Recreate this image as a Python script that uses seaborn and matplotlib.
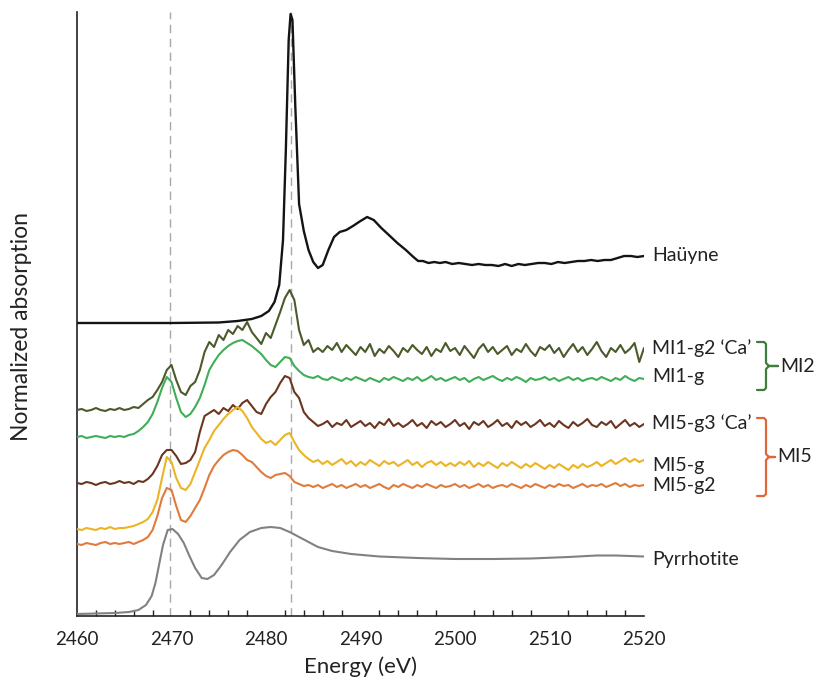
import numpy as np
import pandas as pd
import matplotlib
matplotlib.use("Agg")
import matplotlib.pyplot as plt
from matplotlib.ticker import MultipleLocator
import seaborn as sns

# ---------------- data ----------------
# y-values are in the chart's own arbitrary "normalized absorption" units,
# stacked with offsets as in the reference.
energy_grid = [
    2460.0, 2460.5, 2461.0, 2461.5, 2462.0, 2462.5, 2463.0, 2463.5, 2464.0, 2464.5,
    2465.0, 2465.5, 2466.0, 2466.5, 2467.0, 2467.5, 2468.0, 2468.5, 2469.0, 2469.5,
    2470.0, 2470.5, 2471.0, 2471.5, 2472.0, 2472.5, 2473.0, 2473.5, 2474.0, 2474.5,
    2475.0, 2475.5, 2476.0, 2476.5, 2477.0, 2477.5, 2478.0, 2478.5, 2479.0, 2479.5,
    2480.0, 2480.5, 2481.0, 2481.5, 2482.0, 2482.5, 2483.0, 2483.5, 2484.0, 2484.5,
    2485.0, 2485.5, 2486.0, 2486.5, 2487.0, 2487.5, 2488.0, 2488.5, 2489.0, 2489.5,
    2490.0, 2490.5, 2491.0, 2491.5, 2492.0, 2492.5, 2493.0, 2493.5, 2494.0, 2494.5,
    2495.0, 2495.5, 2496.0, 2496.5, 2497.0, 2497.5, 2498.0, 2498.5, 2499.0, 2499.5,
    2500.0, 2500.5, 2501.0, 2501.5, 2502.0, 2502.5, 2503.0, 2503.5, 2504.0, 2504.5,
    2505.0, 2505.5, 2506.0, 2506.5, 2507.0, 2507.5, 2508.0, 2508.5, 2509.0, 2509.5,
    2510.0, 2510.5, 2511.0, 2511.5, 2512.0, 2512.5, 2513.0, 2513.5, 2514.0, 2514.5,
    2515.0, 2515.5, 2516.0, 2516.5, 2517.0, 2517.5, 2518.0, 2518.5, 2519.0, 2519.5,
    2520.0]

mi1_g2_ca = [
    2.06, 2.07, 2.05, 2.06, 2.08, 2.06, 2.05, 2.07, 2.06, 2.08,
    2.06, 2.07, 2.09, 2.08, 2.12, 2.16, 2.19, 2.26, 2.34, 2.46,
    2.51, 2.36, 2.24, 2.21, 2.30, 2.34, 2.46, 2.64, 2.74, 2.69,
    2.81, 2.76, 2.86, 2.82, 2.90, 2.86, 2.94, 2.84, 2.78, 2.72,
    2.83, 2.78, 2.91, 3.04, 3.18, 3.26, 3.16, 2.86, 2.71, 2.76,
    2.64, 2.68, 2.64, 2.70, 2.66, 2.73, 2.64, 2.71, 2.66, 2.61,
    2.69, 2.64, 2.72, 2.60, 2.67, 2.63, 2.70, 2.65, 2.59, 2.68,
    2.64, 2.71, 2.66, 2.62, 2.69, 2.60, 2.67, 2.64, 2.73, 2.65,
    2.68, 2.61, 2.70, 2.64, 2.58, 2.67, 2.72, 2.64, 2.69, 2.62,
    2.66, 2.70, 2.61, 2.67, 2.64, 2.72, 2.65, 2.60, 2.69, 2.66,
    2.71, 2.63, 2.68, 2.59, 2.66, 2.72, 2.64, 2.69, 2.61, 2.67,
    2.74, 2.65, 2.59, 2.68, 2.64, 2.71, 2.63, 2.67, 2.73, 2.54,
    2.68]

mi1_g = [
    1.79, 1.80, 1.78, 1.79, 1.80, 1.79, 1.78, 1.80, 1.79, 1.80,
    1.79, 1.81, 1.82, 1.85, 1.89, 1.94, 2.02, 2.14, 2.28, 2.39,
    2.34, 2.18, 2.04, 1.99, 2.02, 2.09, 2.18, 2.31, 2.46, 2.54,
    2.61, 2.66, 2.70, 2.73, 2.75, 2.76, 2.73, 2.70, 2.66, 2.62,
    2.56, 2.51, 2.49, 2.54, 2.59, 2.58, 2.50, 2.45, 2.41, 2.39,
    2.38, 2.40, 2.37, 2.36, 2.39, 2.37, 2.35, 2.38, 2.36, 2.39,
    2.37, 2.35, 2.38, 2.36, 2.34, 2.38, 2.36, 2.39, 2.37, 2.35,
    2.38, 2.36, 2.39, 2.35, 2.37, 2.40, 2.36, 2.38, 2.35, 2.37,
    2.39, 2.36, 2.38, 2.34, 2.37, 2.39, 2.36, 2.38, 2.40, 2.37,
    2.35, 2.38, 2.36, 2.39, 2.37, 2.34, 2.38, 2.36, 2.37, 2.39,
    2.36, 2.38, 2.35, 2.37, 2.39, 2.36, 2.38, 2.35, 2.37, 2.38,
    2.36, 2.39, 2.37, 2.35, 2.38, 2.36, 2.40, 2.37, 2.35, 2.38,
    2.37]

mi5_g3_ca = [
    1.33, 1.32, 1.34, 1.33, 1.31, 1.33, 1.34, 1.32, 1.33, 1.35,
    1.33, 1.34, 1.32, 1.35, 1.34, 1.37, 1.42, 1.50, 1.61, 1.66,
    1.66, 1.60, 1.52, 1.53, 1.56, 1.64, 1.84, 2.00, 2.03, 2.06,
    2.02, 2.08, 2.05, 2.11, 2.07, 2.13, 2.16, 2.10, 2.04, 2.02,
    2.12, 2.19, 2.24, 2.33, 2.40, 2.38, 2.24, 2.18, 2.04, 1.98,
    1.94, 1.90, 1.92, 1.95, 1.89, 1.93, 1.91, 1.96, 1.89, 1.92,
    1.95, 1.90, 1.93, 1.88, 1.94, 1.91, 1.97, 1.90, 1.93, 1.89,
    1.92, 1.96, 1.90, 1.93, 1.88, 1.95, 1.91, 1.94, 1.89, 1.92,
    1.96, 1.90, 1.93, 1.87, 1.94, 1.91, 1.95, 1.89, 1.92, 1.96,
    1.90, 1.93, 1.88, 1.95, 1.91, 1.94, 1.89, 1.92, 1.96, 1.90,
    1.93, 1.89, 1.95, 1.91, 1.88, 1.94, 1.90, 1.93, 1.97, 1.91,
    1.89, 1.94, 1.91, 1.95, 1.88, 1.92, 1.96, 1.90, 1.93, 1.89,
    1.92]

mi5_g = [
    0.87, 0.86, 0.88, 0.87, 0.86, 0.88, 0.87, 0.89, 0.87, 0.88,
    0.88, 0.89, 0.90, 0.92, 0.94, 0.97, 1.04, 1.16, 1.38, 1.59,
    1.54, 1.38, 1.28, 1.26, 1.32, 1.44, 1.56, 1.68, 1.76, 1.85,
    1.91, 1.97, 2.02, 2.06, 2.09, 2.05, 1.98, 1.89, 1.83, 1.77,
    1.73, 1.75, 1.71, 1.76, 1.81, 1.83, 1.74, 1.66, 1.61, 1.57,
    1.54, 1.56, 1.52, 1.55, 1.51, 1.54, 1.57, 1.52, 1.55, 1.50,
    1.54, 1.51, 1.56, 1.53, 1.50, 1.55, 1.52, 1.54, 1.50, 1.53,
    1.56, 1.51, 1.54, 1.49, 1.53, 1.55, 1.51, 1.54, 1.50, 1.53,
    1.50, 1.54, 1.51, 1.55, 1.49, 1.53, 1.50, 1.54, 1.51, 1.48,
    1.53, 1.50, 1.54, 1.51, 1.48, 1.52, 1.49, 1.53, 1.50, 1.47,
    1.51, 1.48, 1.52, 1.49, 1.46, 1.51, 1.48, 1.52, 1.49, 1.51,
    1.54, 1.50, 1.53, 1.56, 1.52, 1.55, 1.58, 1.54, 1.57, 1.54,
    1.56]

mi5_g2 = [
    0.72, 0.71, 0.73, 0.72, 0.71, 0.73, 0.74, 0.72, 0.73, 0.72,
    0.73, 0.74, 0.72, 0.74, 0.76, 0.79, 0.86, 1.00, 1.18, 1.28,
    1.26, 1.10, 0.96, 0.94, 1.00, 1.08, 1.16, 1.28, 1.41, 1.50,
    1.56, 1.61, 1.64, 1.66, 1.65, 1.61, 1.56, 1.54, 1.49, 1.44,
    1.40, 1.38, 1.41, 1.42, 1.43, 1.40, 1.34, 1.32, 1.30, 1.31,
    1.29, 1.31, 1.28, 1.30, 1.32, 1.29, 1.31, 1.28, 1.30, 1.32,
    1.29, 1.31, 1.28, 1.30, 1.32, 1.29, 1.27, 1.31, 1.29, 1.32,
    1.30, 1.28, 1.31, 1.29, 1.32, 1.30, 1.28, 1.31, 1.29, 1.30,
    1.32, 1.29, 1.31, 1.28, 1.30, 1.32, 1.29, 1.31, 1.28, 1.30,
    1.31, 1.29, 1.32, 1.30, 1.28, 1.31, 1.29, 1.32, 1.30, 1.28,
    1.31, 1.29, 1.32, 1.30, 1.31, 1.28, 1.30, 1.32, 1.29, 1.31,
    1.30, 1.32, 1.29, 1.31, 1.33, 1.30, 1.32, 1.29, 1.31, 1.30,
    1.31]

hauyne_energy = [
    2460.0, 2470.0, 2475.0, 2477.0, 2478.5, 2479.5, 2480.3, 2480.9, 2481.4, 2481.8,
    2482.1, 2482.4, 2482.6, 2482.8, 2483.1, 2483.5, 2484.0, 2484.5, 2485.0, 2485.5,
    2486.0, 2486.6, 2487.2, 2487.8, 2488.5, 2489.2, 2490.0, 2490.7, 2491.4, 2492.2,
    2493.0, 2493.9, 2494.8, 2495.6, 2496.1, 2496.6, 2497.2, 2497.8, 2498.4, 2499.0,
    2499.7, 2500.4, 2501.1, 2501.8, 2502.5, 2503.2, 2503.9, 2504.6, 2505.3, 2506.0,
    2506.7, 2507.4, 2508.1, 2508.8, 2509.5, 2510.2, 2510.9, 2511.6, 2512.3, 2513.0,
    2513.7, 2514.4, 2515.1, 2515.8, 2516.5, 2517.2, 2517.9, 2518.6, 2519.3, 2520.0]
hauyne = [
    2.93, 2.93, 2.935, 2.95, 2.97, 3.00, 3.05, 3.14, 3.31, 3.76,
    4.66, 5.76, 6.02, 5.96, 5.10, 4.12, 3.85, 3.66, 3.54, 3.48,
    3.51, 3.66, 3.79, 3.84, 3.86, 3.90, 3.95, 3.99, 3.96, 3.88,
    3.81, 3.73, 3.66, 3.59, 3.55, 3.55, 3.53, 3.54, 3.53, 3.54,
    3.52, 3.53, 3.52, 3.51, 3.52, 3.51, 3.51, 3.50, 3.52, 3.50,
    3.52, 3.51, 3.52, 3.53, 3.53, 3.52, 3.54, 3.53, 3.54, 3.55,
    3.55, 3.56, 3.55, 3.56, 3.56, 3.58, 3.60, 3.60, 3.59, 3.60]

pyrrhotite_energy = [
    2460.0, 2462.0, 2464.0, 2465.5, 2466.5, 2467.3, 2467.9, 2468.3, 2468.7, 2469.1,
    2469.6, 2470.1, 2470.7, 2471.3, 2471.9, 2472.5, 2473.2, 2473.8, 2474.5, 2475.3,
    2476.2, 2477.2, 2478.3, 2479.5, 2480.5, 2481.5, 2482.5, 2483.5, 2484.5, 2485.5,
    2487.0, 2489.0, 2492.0, 2496.0, 2500.0, 2504.0, 2508.0, 2512.0, 2515.0, 2517.0,
    2520.0]
pyrrhotite = [
    0.02, 0.025, 0.03, 0.04, 0.06, 0.11, 0.20, 0.33, 0.52, 0.71,
    0.86, 0.87, 0.82, 0.73, 0.60, 0.48, 0.38, 0.37, 0.41, 0.51,
    0.64, 0.76, 0.84, 0.88, 0.89, 0.88, 0.84, 0.79, 0.74, 0.69,
    0.65, 0.62, 0.595, 0.58, 0.57, 0.57, 0.575, 0.59, 0.605, 0.605,
    0.595]

series_names = ["Haüyne", "MI1-g2 \u2018Ca\u2019", "MI1-g", "MI5-g3 \u2018Ca\u2019",
                "MI5-g", "MI5-g2", "Pyrrhotite"]
series_colors = ["#141414", "#4b5a2a", "#3fae58", "#6b3620", "#ecb424", "#e07b3c", "#858080"]
label_y = [3.60, 2.68, 2.39, 1.93, 1.50, 1.30, 0.57]

group_names = ["MI2", "MI5"]
group_colors = ["#3f7d3c", "#e0673a"]

vlines_energy = [2469.8, 2482.6]

# ---------------- build long-form data ----------------
frames = []
for name, e, a in [
    (series_names[0], hauyne_energy, hauyne),
    (series_names[1], energy_grid, mi1_g2_ca),
    (series_names[2], energy_grid, mi1_g),
    (series_names[3], energy_grid, mi5_g3_ca),
    (series_names[4], energy_grid, mi5_g),
    (series_names[5], energy_grid, mi5_g2),
    (series_names[6], pyrrhotite_energy, pyrrhotite),
]:
    frames.append(pd.DataFrame({"Energy": e, "Absorption": a, "Sample": name}))
df = pd.concat(frames, ignore_index=True)

# ---------------- plot ----------------
sns.set_style("white")
plt.rcParams["font.family"] = ["Lato", "DejaVu Sans"]

W, H = 816, 686
fig = plt.figure(figsize=(W / 100, H / 100), dpi=100)
ax = fig.add_axes([77 / W, 1 - 616 / H, (644 - 77) / W, (616 - 12) / H])

for xv in vlines_energy:
    ax.axvline(xv, color="#a8a8a8", lw=1.0, ls=(0, (6, 4)), zorder=1)

palette = dict(zip(series_names, series_colors))
for name in series_names:
    sub = df[df["Sample"] == name]
    sns.lineplot(data=sub, x="Energy", y="Absorption", color=palette[name],
                 lw=1.7 if name == "Haüyne" else 1.5, sort=False, estimator=None,
                 ax=ax, legend=False, zorder=3)

ax.set_xlim(2460, 2520)
ax.set_ylim(0, 6.04)
ax.xaxis.set_major_locator(MultipleLocator(10))
ax.xaxis.set_minor_locator(MultipleLocator(2))
ax.tick_params(axis="x", which="major", direction="in", length=5, width=1.1,
               labelsize=13.5, pad=11, colors="#222222")
ax.tick_params(axis="x", which="minor", direction="in", length=4, width=1.0,
               colors="#222222", bottom=True)
ax.tick_params(axis="y", left=False, labelleft=False)
ax.set_yticks([])
for s in ["top", "right"]:
    ax.spines[s].set_visible(False)
for s in ["left", "bottom"]:
    ax.spines[s].set_color("#222222")
    ax.spines[s].set_linewidth(1.2)

ax.set_xlabel("Energy (eV)", fontsize=16, color="#222222", labelpad=6)
ax.set_ylabel("Normalized absorption", fontsize=16.5, color="#222222")
ax.yaxis.set_label_coords(-0.079, 0.48)

# series labels (right of the plot)
for name, yv in zip(series_names, label_y):
    ax.text(1.014, yv, name, transform=ax.get_yaxis_transform(), fontsize=14,
            va="center", ha="left", color="#222222", clip_on=False)

# group braces in figure pixel coordinates
def brace(top, bottom, stub_end, text_x, color, label):
    mid = (top + bottom) / 2
    xs = [757, 764, 766, 766, 769, stub_end, 769, 766, 766, 764, 757]
    ys = [top, top, top + 2, mid - 3, mid, mid, mid, mid + 3, bottom - 2, bottom, bottom]
    fig.add_artist(plt.Line2D([x / W for x in xs], [1 - y / H for y in ys],
                              color=color, lw=1.6, transform=fig.transFigure))
    fig.text(text_x / W, 1 - mid / H, label, fontsize=14, va="center", ha="left",
             color="#222222")

brace(342, 390, 778, 780, group_colors[0], group_names[0])
brace(418, 496, 775, 777, group_colors[1], group_names[1])

fig.savefig("out.png", dpi=100)
